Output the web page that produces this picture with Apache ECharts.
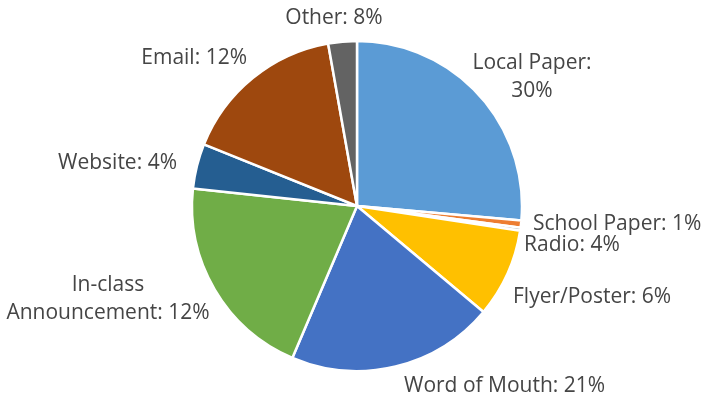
<!DOCTYPE html>
<html lang="en">
<head>
  <meta charset="UTF-8">
  <title>pie</title>
  <script src="https://cdn.jsdelivr.net/npm/echarts@6/dist/echarts.min.js"></script>
  <style>
    html, body { margin: 0; padding: 0; background: #fff; }
  </style>
</head>
<body>
  <div id="main" style="width: 702px;height: 400px;"></div>
  <script type="text/javascript">
    // slice sizes as drawn, and the percentages printed in the labels
    var categories = ['Local Paper', 'School Paper', 'Radio', 'Flyer/Poster', 'Word of Mouth',
      'In-class\nAnnouncement', 'Website', 'Email', 'Other']
    var sliceValues = [26.4, 0.7, 0.3, 8.7, 20.3, 20.3, 4.4, 16.1, 2.8]
    var labelPercents = ['30%', '1%', '4%', '6%', '21%', '12%', '4%', '12%', '8%']

    var colors = ['#5b9bd5', '#ed7d31', '#a5a5a5', '#ffc000', '#4472c4',
      '#70ad47', '#255e91', '#9e480e', '#636363']

    // where excel put each data label: [x, y, align]
    var labelSpots = [
      [532, 77, 'center'],
      [533, 224, 'left'],
      [524, 245, 'left'],
      [513, 297, 'left'],
      [404, 386, 'left'],
      [108, 299, 'center'],
      [177, 163, 'right'],
      [247, 58, 'right'],
      [334, 18, 'center']
    ]

    var myChart = echarts.init(document.getElementById('main'))

    myChart.setOption({
      animation: false,
      backgroundColor: '#fff',
      series: [{
        type: 'pie',
        center: [357, 206],
        radius: 165,
        startAngle: 90,
        clockwise: true,
        avoidLabelOverlap: false,
        minAngle: 0,
        itemStyle: {
          borderColor: '#fff',
          borderWidth: 2.5
        },
        label: {
          show: true,
          position: 'outside',
          fontFamily: 'Open Sans',
          fontSize: 21,
          lineHeight: 28,
          color: '#454545',
          formatter: function (p) {
            var name = p.name
            if (p.dataIndex === 0) return name + ':\n' + labelPercents[0]
            return name + ': ' + labelPercents[p.dataIndex]
          }
        },
        labelLine: { show: false },
        labelLayout: function (params) {
          var s = labelSpots[params.dataIndex]
          return { x: s[0], y: s[1], align: s[2], verticalAlign: 'middle' }
        },
        data: categories.map(function (c, i) {
          return {
            name: c,
            value: sliceValues[i],
            itemStyle: { color: colors[i] },
            label: { align: labelSpots[i][2] }
          }
        })
      }]
    });
  </script>
</body>
</html>
